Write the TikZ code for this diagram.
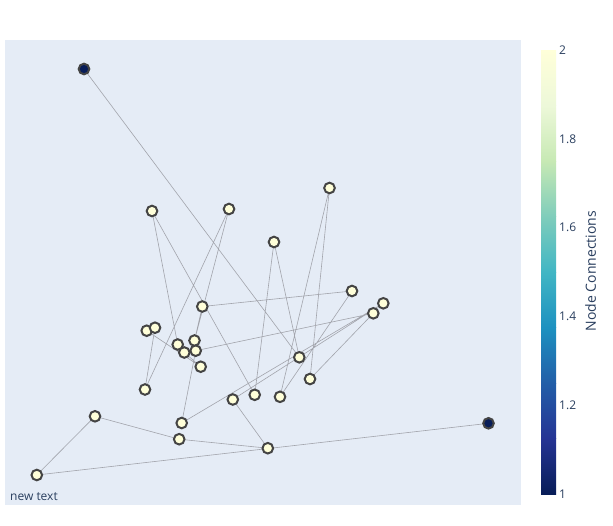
\documentclass[tikz,border=0pt]{standalone}
\usepackage{fontspec}
\setmainfont{Open Sans}
\definecolor{plotbg}{HTML}{E5ECF6}
\definecolor{txt}{HTML}{2A3F5F}
\definecolor{hi}{RGB}{255,255,217}
\definecolor{lo}{RGB}{8,29,88}
\definecolor{edgec}{HTML}{A2A4AC}
\definecolor{mline}{HTML}{444444}
\definecolor{cA}{RGB}{255,255,217}
\definecolor{cB}{RGB}{237,248,217}
\definecolor{cC}{RGB}{199,233,180}
\definecolor{cD}{RGB}{127,205,187}
\definecolor{cE}{RGB}{65,182,196}
\definecolor{cF}{RGB}{29,145,192}
\definecolor{cG}{RGB}{34,94,168}
\definecolor{cH}{RGB}{37,52,148}
\definecolor{cI}{RGB}{8,29,88}
\tikzset{
  vtx/.style={circle, minimum size=10.6pt, inner sep=0pt, line width=2pt, draw=mline, fill=hi},
  vtxlo/.style={vtx, fill=lo},
  edg/.style={draw=edgec, line width=0.6pt},
  ticklab/.style={anchor=west, font=\fontsize{12}{14}\selectfont, text=txt, inner sep=0pt}
}
\begin{document}
\begin{tikzpicture}[x=1pt,y=-1pt]
\useasboundingbox (0,0) rectangle (613,525);
\fill[white] (0,0) rectangle (613,525);
\fill[plotbg] (5,40) rectangle (521,505);
% node positions
\coordinate (p1) at (84,69);
\coordinate (p2) at (152,211);
\coordinate (p3) at (229,209);
\coordinate (p4) at (329.5,188);
\coordinate (p5) at (274,242);
\coordinate (p6) at (352,291);
\coordinate (p7) at (383.3,303.3);
\coordinate (p8) at (373.3,313.3);
\coordinate (p9) at (202.3,306.5);
\coordinate (p10) at (146.7,330.7);
\coordinate (p11) at (155,327.7);
\coordinate (p12) at (177.7,344.5);
\coordinate (p13) at (194.5,340.5);
\coordinate (p14) at (184.3,352.5);
\coordinate (p15) at (195.7,350.7);
\coordinate (p16) at (200.7,366.7);
\coordinate (p17) at (299.3,357.3);
\coordinate (p18) at (310,379);
\coordinate (p19) at (145,389.5);
\coordinate (p20) at (254.7,394.8);
\coordinate (p21) at (280,396.8);
\coordinate (p22) at (232.8,399.5);
\coordinate (p23) at (95,416.3);
\coordinate (p24) at (181.7,423);
\coordinate (p25) at (179.2,439.2);
\coordinate (p26) at (267.8,448.2);
\coordinate (p27) at (36.8,475);
\coordinate (p28) at (488.5,423.3);
% edges (drawn first, beneath the markers)
\path[edg]
  (p1) -- (p17)
  (p2) -- (p12)
  (p2) -- (p20)
  (p3) -- (p19)
  (p3) -- (p13)
  (p9) -- (p13)
  (p4) -- (p21)
  (p4) -- (p18)
  (p5) -- (p20)
  (p5) -- (p17)
  (p6) -- (p9)
  (p6) -- (p21)
  (p8) -- (p18)
  (p8) -- (p15)
  (p7) -- (p24)
  (p7) -- (p22)
  (p19) -- (p11)
  (p10) -- (p16)
  (p10) -- (p11)
  (p12) -- (p14)
  (p14) -- (p16)
  (p24) -- (p15)
  (p22) -- (p26)
  (p27) -- (p28)
  (p27) -- (p23)
  (p23) -- (p25)
  (p25) -- (p26);
% markers
\node[vtxlo] (n1) at (p1) {};
\foreach \i in {2,...,27}{
  \node[vtx] (n\i) at (p\i) {};
}
\node[vtxlo] (n28) at (p28) {};
% colorbar
\shade[top color=cA, bottom color=cB] (541,50) rectangle (556,105.5);
\shade[top color=cB, bottom color=cC] (541,105.5) rectangle (556,161);
\shade[top color=cC, bottom color=cD] (541,161) rectangle (556,216.5);
\shade[top color=cD, bottom color=cE] (541,216.5) rectangle (556,272);
\shade[top color=cE, bottom color=cF] (541,272) rectangle (556,327.5);
\shade[top color=cF, bottom color=cG] (541,327.5) rectangle (556,383);
\shade[top color=cG, bottom color=cH] (541,383) rectangle (556,438.5);
\shade[top color=cH, bottom color=cI] (541,438.5) rectangle (556,494);
\node[ticklab] (t2) at (559,50) {2};
\node[ticklab] (t18) at (559,138.8) {1.8};
\node[ticklab] (t16) at (559,227.6) {1.6};
\node[ticklab] (t14) at (559,316.4) {1.4};
\node[ticklab] (t12) at (559,405.2) {1.2};
\node[ticklab] (t1) at (559,494) {1};
\node[rotate=90, font=\fontsize{14}{16}\selectfont, text=txt, inner sep=0pt] (cbtitle) at (590.5,271) {Node Connections};
\node[anchor=west, font=\fontsize{12}{14}\selectfont, text=txt, inner sep=0pt] (ann) at (10,497) {new text};
\end{tikzpicture}
\end{document}
